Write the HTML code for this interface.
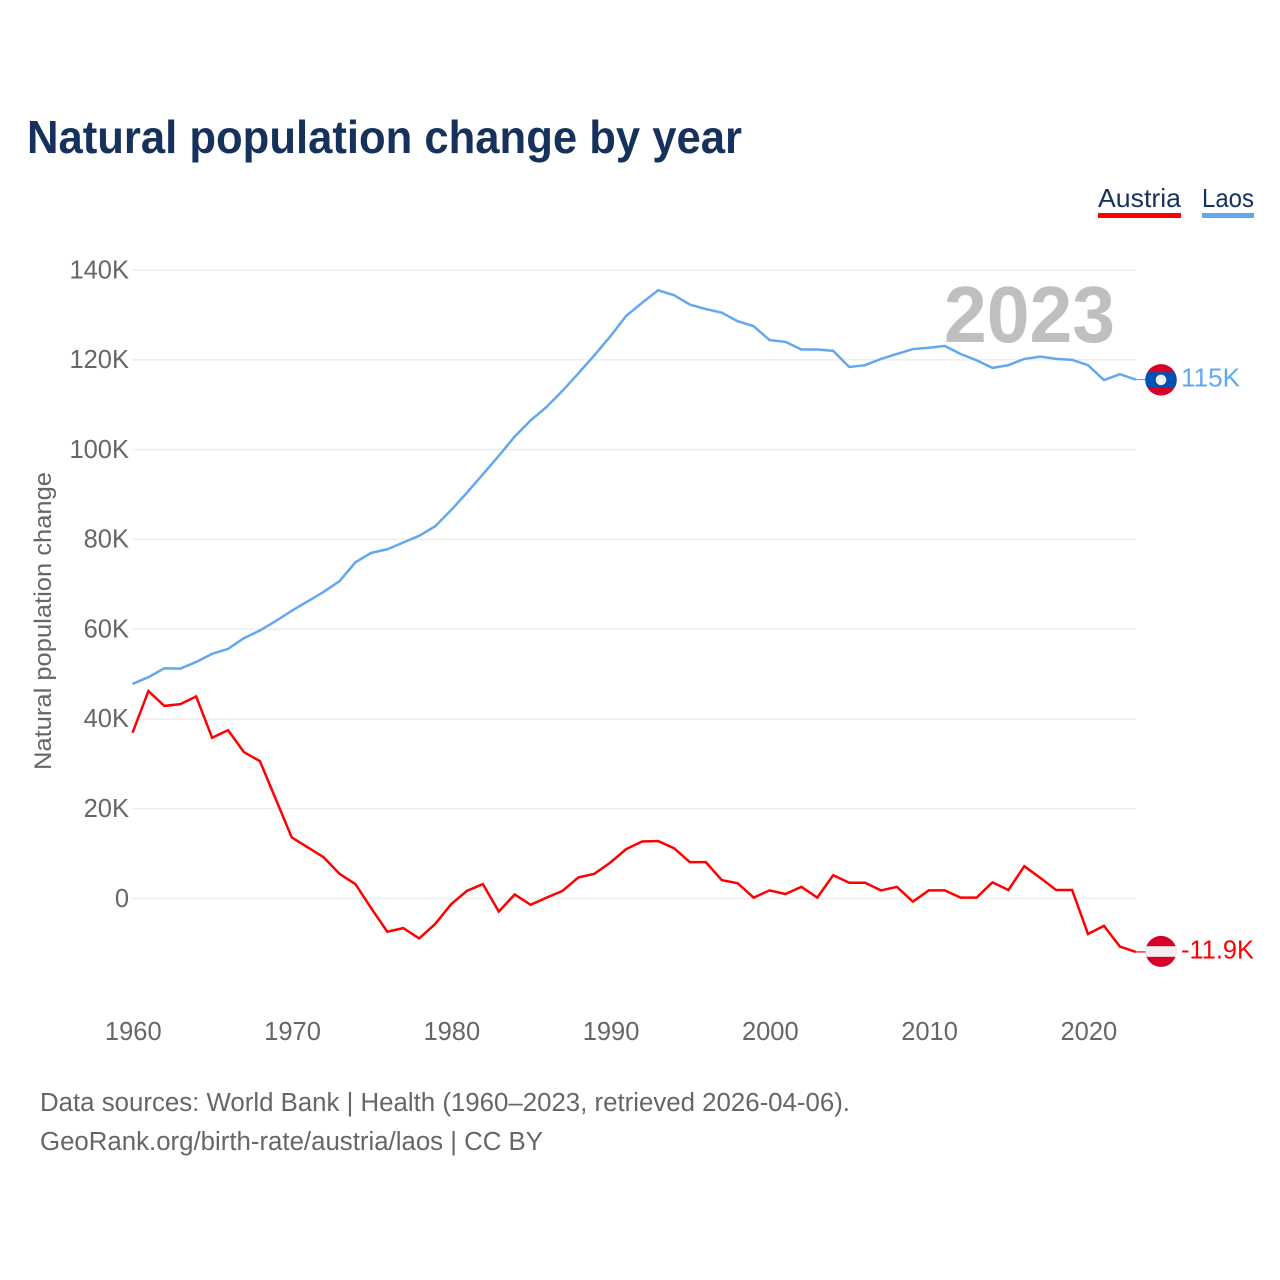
<!DOCTYPE html>
<html lang="en">
<head>
<meta charset="utf-8">
<title>Natural population change by year</title>
<style>
  html, body { margin: 0; padding: 0; background: #ffffff; }
  svg { display: block; font-family: "Liberation Sans", Arial, sans-serif; }
</style>
</head>
<body>
<svg id="chart" xmlns="http://www.w3.org/2000/svg" width="1280" height="1280" viewBox="0 0 1280 1280">
  <rect width="1280" height="1280" fill="#ffffff"/>
  <text x="27" y="153" font-size="46" font-weight="700" fill="#16325c" textLength="715" lengthAdjust="spacingAndGlyphs">Natural population change by year</text>

  <g>
    <g>
      <text x="1098" y="207" font-size="26" fill="#16325c" textLength="83" lengthAdjust="spacingAndGlyphs">Austria</text>
      <rect x="1098" y="213" width="83" height="5" fill="#ff0000"/>
    </g>
    <g>
      <text x="1202" y="207" font-size="26" fill="#16325c" textLength="52" lengthAdjust="spacingAndGlyphs">Laos</text>
      <rect x="1202" y="213" width="52" height="5" fill="#62a8ef"/>
    </g>
  </g>

  <g id="grid"></g>
  <g id="y-ticks"></g>
  <g id="x-ticks"></g>

  <text transform="translate(51 621) rotate(-90)" text-anchor="middle" font-size="24" fill="#666666" textLength="298" lengthAdjust="spacingAndGlyphs">Natural population change</text>

  <text x="944" y="342" font-size="80" font-weight="700" fill="#bfbfbf" textLength="171" lengthAdjust="spacingAndGlyphs">2023</text>

  <g id="series"></g>

  <g id="flag-laos">
    <clipPath id="clip-laos"><circle id="clip-laos-c" r="15.7"/></clipPath>
    <g id="flag-laos-inner" clip-path="url(#clip-laos)"></g>
  </g>
  <g id="flag-austria">
    <clipPath id="clip-austria"><circle id="clip-austria-c" r="15.5"/></clipPath>
    <g id="flag-austria-inner" clip-path="url(#clip-austria)"></g>
  </g>

  <text id="label-laos" x="1181" font-size="25.5" fill="#62a8ef" textLength="59" lengthAdjust="spacingAndGlyphs">115K</text>
  <text id="label-austria" x="1181" font-size="25.5" fill="#ff0000" textLength="73" lengthAdjust="spacingAndGlyphs">-11.9K</text>

  <text x="40" y="1111" font-size="25.5" fill="#666666" textLength="810" lengthAdjust="spacingAndGlyphs">Data sources: World Bank | Health (1960–2023, retrieved 2026-04-06).</text>
  <text x="40" y="1150" font-size="25.5" fill="#666666" textLength="503" lengthAdjust="spacingAndGlyphs">GeoRank.org/birth-rate/austria/laos | CC BY</text>
</svg>
<script>
const firstYear = 1960;
const austriaValues = [
  36.9, 46.2, 42.9, 43.3, 45.0, 35.8, 37.5, 32.6, 30.6, 22.1,
  13.6, 11.4, 9.2, 5.5, 3.2, -2.2, -7.4, -6.6, -8.9, -5.7,
  -1.3, 1.7, 3.2, -2.9, 0.9, -1.4, 0.2, 1.7, 4.7, 5.5,
  8.0, 11.0, 12.7, 12.8, 11.2, 8.1, 8.1, 4.1, 3.4, 0.2,
  1.8, 1.0, 2.6, 0.2, 5.2, 3.5, 3.5, 1.8, 2.6, -0.7,
  1.8, 1.8, 0.2, 0.2, 3.6, 1.9, 7.2, 4.6, 1.9, 1.9,
  -7.9, -6.1, -10.7, -11.9
];
const laosValues = [
  47.8, 49.3, 51.3, 51.2, 52.7, 54.5, 55.6, 58.0, 59.7, 61.8,
  64.1, 66.2, 68.3, 70.7, 74.9, 77.0, 77.8, 79.3, 80.8, 82.9,
  86.5, 90.4, 94.5, 98.6, 102.9, 106.5, 109.5, 113.1, 117.0, 121.0,
  125.2, 129.8, 132.7, 135.5, 134.4, 132.3, 131.3, 130.5, 128.6, 127.5,
  124.4, 124.0, 122.3, 122.3, 122.0, 118.4, 118.8, 120.2, 121.3, 122.4,
  122.7, 123.1, 121.3, 119.9, 118.2, 118.8, 120.2, 120.7, 120.2, 120.0,
  118.8, 115.5, 116.8, 115.6
];
const yTickValues = [0, 20, 40, 60, 80, 100, 120, 140];
const yTickLabels = ["0", "20K", "40K", "60K", "80K", "100K", "120K", "140K"];
const xTickYears = [1960, 1970, 1980, 1990, 2000, 2010, 2020];

const NS = "http://www.w3.org/2000/svg";
const plotLeft = 132.5;
const plotRight = 1135.8;
const yearSpan = 63;
const yZero = 898.5;
const yPerK = 4.489;

function xScale(year) {
  return plotLeft + (year - firstYear) * (plotRight - plotLeft) / yearSpan;
}
function yScale(value) {
  return yZero - value * yPerK;
}
function make(tag, attrs, parent) {
  const el = document.createElementNS(NS, tag);
  for (const key in attrs) el.setAttribute(key, attrs[key]);
  parent.appendChild(el);
  return el;
}

const gridGroup = document.getElementById("grid");
const yTickGroup = document.getElementById("y-ticks");
yTickValues.forEach(function (value, i) {
  const line = make("line", {
    x1: 132, x2: 1136,
    y1: yScale(value), y2: yScale(value),
    stroke: "#ececec", "stroke-width": 1.4
  }, gridGroup);
  
  
  const label = make("text", {
    x: 129, y: yScale(value) + 8.3,
    "text-anchor": "end", "font-size": 25.5, fill: "#666666"
  }, yTickGroup);
  
  
  label.textContent = yTickLabels[i];
});

const xTickGroup = document.getElementById("x-ticks");
xTickYears.forEach(function (year) {
  const label = make("text", {
    x: xScale(year) + 0.8, y: 1040,
    "text-anchor": "middle", "font-size": 25.5, fill: "#666666"
  }, xTickGroup);
  
  
  label.textContent = String(year);
});

function drawSeries(values, color, name) {
  const group = document.getElementById("series");
  const points = values.map(function (value, i) {
    return xScale(firstYear + i).toFixed(2) + "," + yScale(value).toFixed(2);
  }).join(" ");
  const line = make("polyline", {
    points: points, fill: "none", stroke: color,
    "stroke-width": 2.5, "stroke-linejoin": "miter"
  }, group);
  
  
  const last = values[values.length - 1];
  const connector = make("line", {
    x1: xScale(firstYear + values.length - 1), x2: 1146,
    y1: yScale(last), y2: yScale(last),
    stroke: color, "stroke-width": 1.2
  }, group);
  
  
}
drawSeries(austriaValues, "#ff0000", "austria");
drawSeries(laosValues, "#62a8ef", "laos");

const laosY = yScale(laosValues[laosValues.length - 1]);
const austriaY = yScale(austriaValues[austriaValues.length - 1]);
const flagX = 1161;

document.getElementById("clip-laos-c").setAttribute("cx", flagX);
document.getElementById("clip-laos-c").setAttribute("cy", laosY + 0.3);
const laosInner = document.getElementById("flag-laos-inner");
make("rect", { x: flagX - 16, y: laosY - 16, width: 32, height: 32, fill: "#d80027" }, laosInner);
make("rect", { x: flagX - 16, y: laosY - 7.4, width: 32, height: 15.2, fill: "#0052b4" }, laosInner);
make("circle", { cx: flagX, cy: laosY + 0.3, r: 5.3, fill: "#f0f0f0" }, laosInner);

document.getElementById("clip-austria-c").setAttribute("cx", flagX);
document.getElementById("clip-austria-c").setAttribute("cy", austriaY - 0.5);
const austriaInner = document.getElementById("flag-austria-inner");
make("rect", { x: flagX - 16, y: austriaY - 16.5, width: 32, height: 32, fill: "#d80027" }, austriaInner);
make("rect", { x: flagX - 16, y: austriaY - 5.7, width: 32, height: 10.6, fill: "#f0f0f0" }, austriaInner);

document.getElementById("label-laos").setAttribute("y", laosY + 7);
document.getElementById("label-austria").setAttribute("y", austriaY + 6.5);
</script>
</body>
</html>
